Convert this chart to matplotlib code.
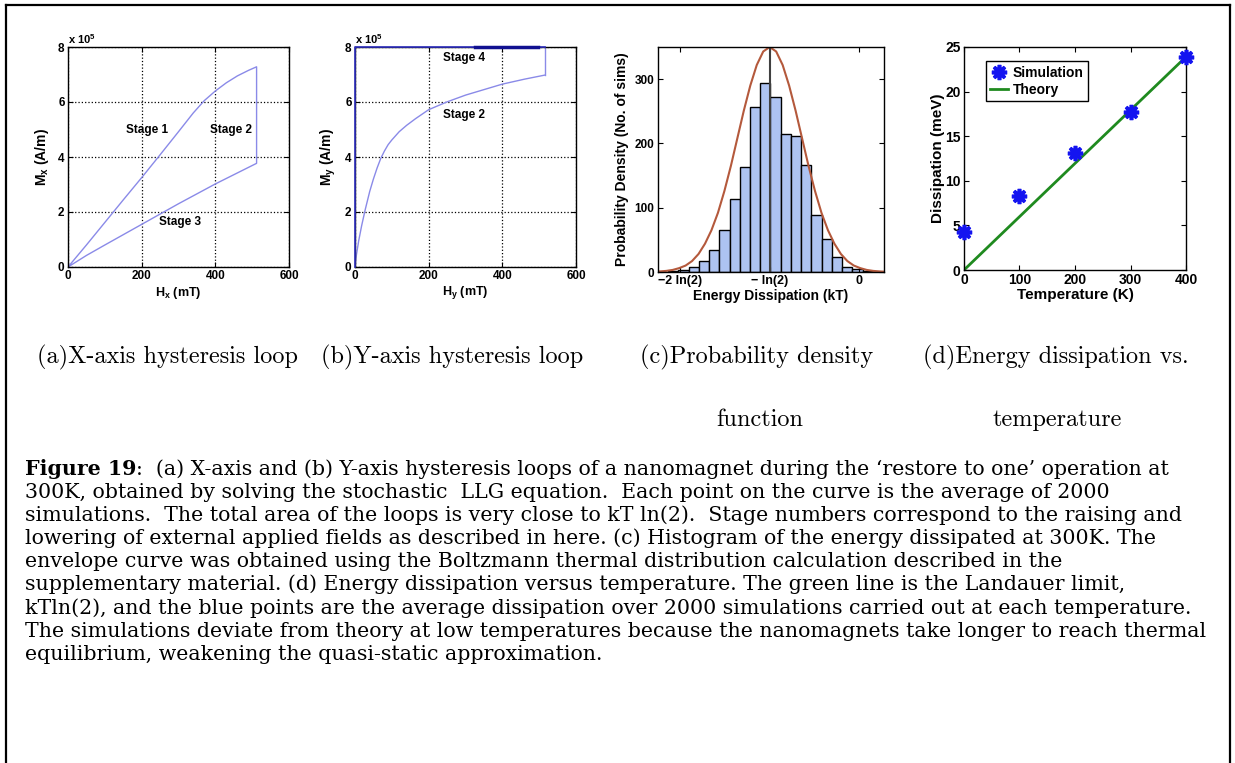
import numpy as np
import matplotlib
matplotlib.use("Agg")
import matplotlib.pyplot as plt
from matplotlib.lines import Line2D

# ---- data ----
# (a) X-axis loop, M in units of 1e5 A/m
hx_up = [0, 50, 100, 150, 200, 250, 300, 340, 370, 400, 430, 460, 490, 512]
mx_up = [0, 0.8, 1.62, 2.44, 3.25, 4.08, 4.92, 5.6, 6.05, 6.4, 6.7, 6.95, 7.15, 7.28]
hx_down = [512, 400, 300, 200, 100, 50, 0]
mx_down = [3.77, 3.02, 2.3, 1.55, 0.8, 0.42, 0]

# (b) Y-axis loop
hy_up = [0, 4, 10, 18, 28, 40, 50, 60, 70, 80, 90, 100, 120, 140, 165, 200,
         249, 300, 350, 400, 460, 516]
my_up = [0, 0.45, 0.95, 1.5, 2.1, 2.75, 3.2, 3.6, 3.95, 4.22, 4.45, 4.62,
         4.92, 5.15, 5.4, 5.72, 6.0, 6.25, 6.45, 6.65, 6.83, 6.98]
hy_top = [516, 516, 0, 0]
my_top = [6.98, 8.0, 8.0, 0]
hy_stage4 = [326, 498]

# (c) histogram of dissipated energy (kT)
bin_start = -1.477
bin_width = 0.079
counts = [1.5, 3, 8, 17, 34, 65, 114, 163, 256, 294,
          273, 214, 212, 167, 88, 51, 23, 8.5, 4, 1]
env_x = [-1.556, -1.543, -1.493, -1.443, -1.393, -1.343, -1.293, -1.243,
         -1.193, -1.143, -1.093, -1.043, -0.993, -0.943, -0.893, -0.843,
         -0.793, -0.743, -0.693, -0.643, -0.593, -0.543, -0.493, -0.443,
         -0.393, -0.343, -0.293, -0.243, -0.193, -0.143, -0.093, -0.043,
         0.007, 0.057, 0.107, 0.157, 0.19]
env_y = [0.8, 0.9, 1.7, 3.2, 6, 10, 17, 28, 44, 65, 92, 126, 165, 208, 251,
         290, 322, 343, 350, 343, 322, 290, 251, 208, 165, 126, 92, 65, 44,
         28, 17, 10, 6, 3.2, 1.7, 0.9, 0.5]
ln2 = np.log(2)

# (d) dissipation vs temperature
temps = [0, 100, 200, 300, 400]
sim_mev = [4.3, 8.3, 13.1, 17.7, 23.9]
theory_t = [0, 400]
theory_mev = [0, 23.9]

subcaps = [("(a)X-axis hysteresis loop", 167, 357),
           ("(b)Y-axis hysteresis loop", 452, 357),
           ("(c)Probability density", 757, 357),
           ("function", 760, 420),
           ("(d)Energy dissipation vs.", 1056, 357),
           ("temperature", 1057, 420)]

caption_head = "Figure 19"
caption_lines = [
    ":  (a) X-axis and (b) Y-axis hysteresis loops of a nanomagnet during the \u2018restore to one\u2019 operation at",
    "300K, obtained by solving the stochastic  LLG equation.  Each point on the curve is the average of 2000",
    "simulations.  The total area of the loops is very close to kT ln(2).  Stage numbers correspond to the raising and",
    "lowering of external applied fields as described in here. (c) Histogram of the energy dissipated at 300K. The",
    "envelope curve was obtained using the Boltzmann thermal distribution calculation described in the",
    "supplementary material. (d) Energy dissipation versus temperature. The green line is the Landauer limit,",
    "kTln(2), and the blue points are the average dissipation over 2000 simulations carried out at each temperature.",
    "The simulations deviate from theory at low temperatures because the nanomagnets take longer to reach thermal",
    "equilibrium, weakening the quasi-static approximation.",
]

# ---- figure ----
W, H = 1235, 763
plt.rcParams["font.family"] = ["Liberation Sans", "DejaVu Sans"]
plt.rcParams["mathtext.fontset"] = "custom"
plt.rcParams["mathtext.rm"] = "Liberation Sans"
plt.rcParams["mathtext.bf"] = "Liberation Sans:bold"
plt.rcParams["axes.unicode_minus"] = True

fig = plt.figure(figsize=(W / 100, H / 100), dpi=100)


def px_rect(l, t, r, b):
    return [l / W, 1 - b / H, (r - l) / W, (b - t) / H]


def fx(x):
    return x / W


def fy(y):
    return 1 - y / H


def matlab_style(ax, size=8.5):
    ax.tick_params(direction="in", top=True, right=True, length=3.5,
                   width=0.8, labelsize=size, pad=2.5)
    for lab in ax.get_xticklabels() + ax.get_yticklabels():
        lab.set_fontweight("bold")
    for sp in ax.spines.values():
        sp.set_linewidth(1.0)


def place_labels(ax, xlab, ylab, xy, yx, xsize, ysize):
    ax.set_xlabel(xlab, fontsize=xsize, fontweight="bold")
    ax.set_ylabel(ylab, fontsize=ysize, fontweight="bold")
    ax.xaxis.set_label_coords(0.5, xy)
    ax.yaxis.set_label_coords(yx, 0.5)
    ax.xaxis.label.set_va("center")
    ax.yaxis.label.set_va("center")


curve_col = "#8a8ae8"

# (a)
ax1 = fig.add_axes(px_rect(68, 47, 289, 267))
ax1.plot(hx_up + hx_down, mx_up + mx_down, color=curve_col, lw=1.0)
ax1.set_xlim(0, 600)
ax1.set_ylim(0, 8)
ax1.set_xticks([0, 200, 400, 600])
ax1.set_yticks([0, 2, 4, 6, 8])
ax1.grid(True, linestyle=":", color="k", lw=0.9)
matlab_style(ax1)
place_labels(ax1, r"H$_\mathbf{x}$ (mT)", r"M$_\mathbf{x}$ (A/m)", -0.118, -0.118, 9, 10)
ax1.text(215, 5.0, "Stage 1", ha="center", va="center", fontsize=8.5, fontweight="bold")
ax1.text(443, 5.0, "Stage 2", ha="center", va="center", fontsize=8.5, fontweight="bold")
ax1.text(304, 1.64, "Stage 3", ha="center", va="center", fontsize=8.5, fontweight="bold")
fig.text(fx(68), fy(44), r"x 10$^\mathbf{5}$", fontsize=8, fontweight="bold", va="baseline")

# (b)
ax2 = fig.add_axes(px_rect(355, 47, 576, 267))
ax2.plot(hy_up, my_up, color=curve_col, lw=1.0)
ax2.plot(hy_top[:2], my_top[:2], color=curve_col, lw=1.0, clip_on=False)
ax2.plot(hy_top[1:], my_top[1:], color="#3030c0", lw=1.2, clip_on=False, zorder=5)
ax2.plot(hy_stage4, [8, 8], color="#101090", lw=2.5, clip_on=False, zorder=5)
ax2.set_xlim(0, 600)
ax2.set_ylim(0, 8)
ax2.set_xticks([0, 200, 400, 600])
ax2.set_yticks([0, 2, 4, 6, 8])
ax2.grid(True, linestyle=":", color="k", lw=0.9)
matlab_style(ax2)
place_labels(ax2, r"H$_\mathbf{y}$ (mT)", r"M$_\mathbf{y}$ (A/m)", -0.118, -0.122, 9, 10)
ax2.text(296, 7.6, "Stage 4", ha="center", va="center", fontsize=8.5, fontweight="bold")
ax2.text(296, 5.53, "Stage 2", ha="center", va="center", fontsize=8.5, fontweight="bold")
fig.text(fx(355), fy(44), r"x 10$^\mathbf{5}$", fontsize=8, fontweight="bold", va="baseline")

# (c)
ax3 = fig.add_axes(px_rect(658, 47, 884, 272))
lefts = [bin_start + i * bin_width for i in range(len(counts))]
ax3.bar(lefts, counts, width=bin_width, align="edge", color="#adc3f2",
        edgecolor="k", linewidth=1.0)
ax3.plot(env_x, env_y, color="#b4593c", lw=1.5)
ax3.plot([-ln2, -ln2], [0, 350], color="#404040", lw=1.5)
ax3.set_xlim(-1.556, 0.19)
ax3.set_ylim(0, 350)
ax3.set_xticks([-2 * ln2, -ln2, 0])
ax3.set_xticklabels(["\u22122 ln(2)", "\u2212 ln(2)", "0"])
ax3.set_yticks([0, 100, 200, 300])
matlab_style(ax3, 9)
ax3.tick_params(axis="y", labelsize=8.5)
for lab in ax3.get_yticklabels():
    lab.set_fontweight("bold")
place_labels(ax3, "Energy Dissipation (kT)", "Probability Density (No. of sims)",
             -0.107, -0.159, 10, 10)

# (d)
ax4 = fig.add_axes(px_rect(964, 47, 1186, 270))
ax4.plot(theory_t, theory_mev, color="#1f8a1f", lw=2.0, label="Theory")
ax4.plot(temps, sim_mev, linestyle="none", marker=(8, 2, 0), markersize=11,
         markeredgewidth=2.6, color="#1414f0", label="Simulation", clip_on=False, zorder=5)
ax4.set_xlim(0, 400)
ax4.set_ylim(0, 25)
ax4.set_xticks([0, 100, 200, 300, 400])
ax4.set_yticks([0, 5, 10, 15, 20, 25])
matlab_style(ax4, 10)
place_labels(ax4, "Temperature (K)", "Dissipation (meV)", -0.112, -0.117, 11, 11)
h, l = ax4.get_legend_handles_labels()
leg = ax4.legend(h[::-1], l[::-1], loc="upper left", bbox_to_anchor=(0.1, 0.935),
                 borderaxespad=0, fancybox=False, edgecolor="k", framealpha=1,
                 handlelength=1.3, handletextpad=0.3, borderpad=0.3,
                 labelspacing=0.25, prop={"weight": "bold", "size": 10})
leg.get_frame().set_linewidth(1.0)

# sub-figure captions
for txt, x, y in subcaps:
    fig.text(fx(x), fy(y), txt, ha="center", va="center", fontsize=17.5,
             family=["cmr10", "DejaVu Serif"])

# main caption
cap_x, base0, step = 25, 475, 23.1
renderer = fig.canvas.get_renderer()
head = fig.text(fx(cap_x), fy(base0), caption_head, fontsize=14.8, fontweight="bold",
                family="DejaVu Serif", va="baseline")
hx1 = head.get_window_extent(renderer).x1 / W
for i, line in enumerate(caption_lines):
    x0 = hx1 if i == 0 else fx(cap_x)
    fig.text(x0, fy(base0 + i * step), line, fontsize=14.8,
             family="DejaVu Serif", va="baseline")

# page frame around the figure block
frame_kw = dict(color="k", lw=1.6, transform=fig.transFigure)
fig.add_artist(Line2D([fx(6), fx(6)], [fy(5), 0], **frame_kw))
fig.add_artist(Line2D([fx(6), fx(1230)], [fy(5), fy(5)], **frame_kw))
fig.add_artist(Line2D([fx(1230), fx(1230)], [fy(5), 0], **frame_kw))

fig.savefig("out.png", dpi=100)
